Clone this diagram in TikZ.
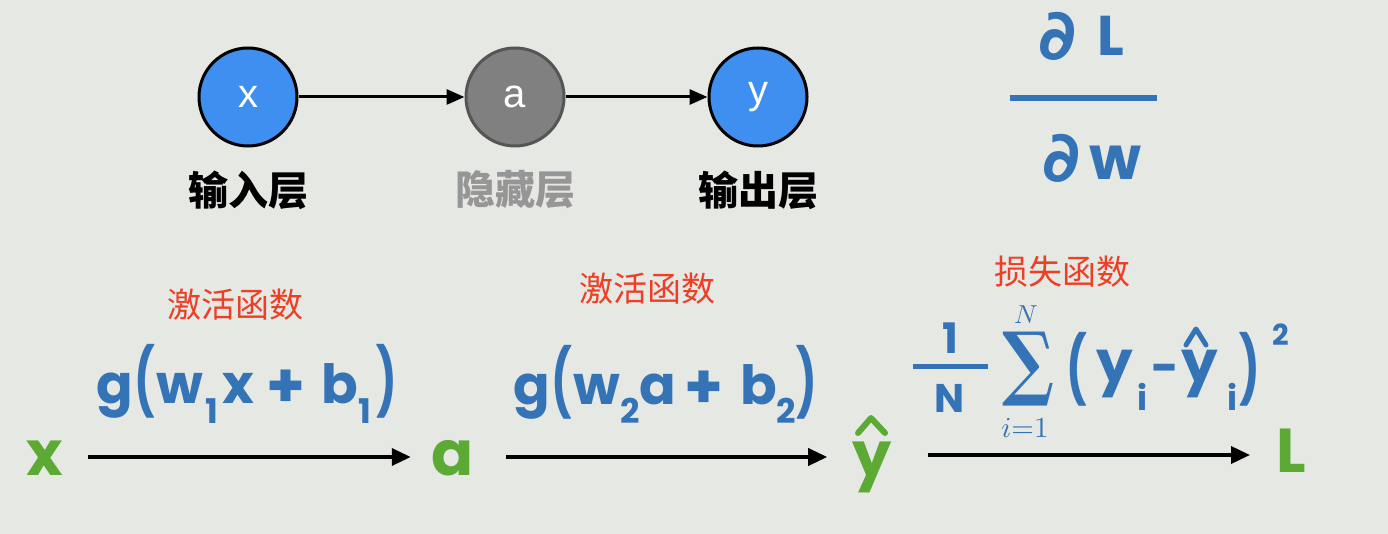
\documentclass[tikz,border=0pt]{standalone}
\usepackage{amsmath}
\usepackage{graphicx}
\usepackage[no-math]{fontspec}
\usetikzlibrary{arrows.meta}
\newfontfamily\pop{Poppins}
\newfontfamily\cjk{Noto Sans CJK SC}
\newfontfamily\helv{Liberation Sans}
\newfontfamily\dvs{DejaVu Sans}
\newfontfamily\dvserif{DejaVu Serif}
\definecolor{bgc}{RGB}{229,232,227}
\definecolor{bluef}{RGB}{53,115,183}
\definecolor{greenc}{RGB}{92,170,52}
\definecolor{redc}{RGB}{236,63,38}
\definecolor{circb}{RGB}{62,143,240}
\definecolor{circg}{RGB}{128,128,128}
\definecolor{circgd}{RGB}{85,85,85}
\definecolor{lblg}{RGB}{150,150,150}
\newcommand\tallpar[1]{\scalebox{0.8}[1.22]{#1}}
\tikzset{
  neuron/.style={circle, draw=black, fill=circb, line width=3pt, minimum size=98pt, inner sep=0pt,
    font=\helv\fontsize{40}{40}\selectfont, text=white},
  layerlbl/.style={font=\cjk\bfseries\fontsize{40}{40}\selectfont, text=black, inner sep=0pt},
  redlbl/.style={font=\cjk\fontsize{34}{34}\selectfont, text=redc, inner sep=0pt},
  fg/.style={font=\pop\bfseries\fontsize{54}{54}\selectfont, text=bluef, inner sep=0pt, anchor=base},
  fpar/.style={fg},
  fplus/.style={fg, font=\pop\bfseries\fontsize{62}{62}\selectfont},
  fsub/.style={fg, font=\pop\bfseries\fontsize{34}{34}\selectfont},
  limit/.style={text=bluef, inner sep=0pt},
  var/.style={font=\pop\bfseries\fontsize{62}{62}\selectfont, text=greenc, inner sep=0pt, anchor=base},
  arr/.style={line width=3.5pt, -{Triangle[length=19pt,width=17pt]}},
  hat/.style={line width=5pt, line cap=round, line join=round},
}
\begin{document}
\begin{tikzpicture}[x=1pt,y=-1pt]
\fill[bgc] (0,0) rectangle (1388,534);
\useasboundingbox (0,0) rectangle (1388,534);
% network
\node[neuron] (nx) at (248,97) {x};
\node[neuron, fill=circg, draw=circgd] (na) at (515,97) {a};
\node[neuron] (ny) at (758,97) {y};
\draw[line width=3pt, -{Triangle[length=18pt,width=15pt]}] (nx) -- (na);
\draw[line width=3pt, -{Triangle[length=18pt,width=15pt]}] (na) -- (ny);
\node[layerlbl] (lx) at (248,190) {输入层};
\node[layerlbl, text=lblg] (la) at (515,190) {隐藏层};
\node[layerlbl] (ly) at (758,190) {输出层};
% dL/dw
\node[fg, font=\dvs\bfseries\fontsize{70}{70}\selectfont] (dl1) at (1058,60) {∂};
\node[fg, font=\pop\bfseries\fontsize{56}{56}\selectfont] (dl2) at (1111,56) {L};
\draw[bluef, line width=6pt] (1010,98) -- (1157,98);
\node[fg, font=\dvs\bfseries\fontsize{70}{70}\selectfont] (dw1) at (1062,182) {∂};
\node[fg, font=\pop\bfseries\fontsize{60}{60}\selectfont] (dw2) at (1115,180) {w};
% red labels
\node[redlbl] (r1) at (235,305) {激活函数};
\node[redlbl] (r2) at (647,289) {激活函数};
\node[redlbl] (r3) at (1062,272) {损失函数};
% formula 1
\node[fg] (f1g) at (115,403) {g};
\node[fpar] (f1l) at (145,404) {\tallpar{(}};
\node[fg] (f1w) at (180,403) {w};
\node[fsub] (f1s) at (212,423) {1};
\node[fg] (f1x) at (238,403) {x};
\node[fplus] (f1p) at (286,407) {+};
\node[fg] (f1b) at (340,403) {b};
\node[fsub] (f1t) at (365,423) {1};
\node[fpar] (f1r) at (387,404) {\tallpar{)}};
% formula 2
\node[fg] (f2g) at (532,404) {g};
\node[fpar] (f2l) at (562,405) {\tallpar{(}};
\node[fg] (f2w) at (597,404) {w};
\node[fsub] (f2s) at (630,423) {2};
\node[fg] (f2a) at (658,404) {a};
\node[fplus] (f2p) at (704,408) {+};
\node[fg] (f2b) at (759,404) {b};
\node[fsub] (f2t) at (786,423) {2};
\node[fpar] (f2r) at (807,405) {\tallpar{)}};
% loss formula
\node[fg, font=\pop\bfseries\fontsize{42}{42}\selectfont] (one) at (950,353) {1};
\draw[bluef, line width=5pt] (913,366) -- (988,366);
\node[fg, font=\pop\bfseries\fontsize{40}{40}\selectfont] (nn) at (950,412) {N};
\node[limit] (sum) at (1028,369) {\resizebox*{52pt}{74pt}{\dvserif\bfseries ∑}};
\node[limit] (sumt) at (1026,315) {\scalebox{2.6}{$N$}};
\node[limit] (sumb) at (1025,428) {\scalebox{2.9}{$i{=}1$}};
\node[fpar] (lp) at (1077,392) {\tallpar{(}};
\node[fg, font=\pop\bfseries\fontsize{58}{58}\selectfont] (ly1) at (1115,382) {y};
\node[fsub] (ls1) at (1142,410) {i};
\node[fg, font=\pop\bfseries\fontsize{48}{48}\selectfont] (lm) at (1165,384) {-};
\node[fg, font=\pop\bfseries\fontsize{58}{58}\selectfont] (ly2) at (1200,382) {y};
\draw[bluef, hat] (1186,345) -- (1196,329) -- (1206,345);
\node[fsub] (ls2) at (1232,410) {i};
\node[fpar] (rp) at (1250,392) {\tallpar{)}};
\node[fsub, font=\pop\bfseries\fontsize{29}{29}\selectfont] (sq) at (1281,345) {2};
% bottom chain
\node[var] (gx) at (45,475) {x};
\node[var] (ga) at (453,475) {a};
\node[var] (gy) at (872,476) {y};
\draw[greenc, line width=6pt, line cap=round, line join=round] (858,433) -- (871,418) -- (885,433);
\node[var] (gl) at (1291,472) {L};
\draw[arr, shorten <=25pt, shorten >=21pt] ([yshift=18pt]gx.base east) -- ([yshift=18pt]ga.base west);
\draw[arr, shorten <=32pt, shorten >=25pt] ([yshift=18pt]ga.base east) -- ([yshift=18pt]ga.base east -| gy.west);
\draw[arr, shorten <=36pt, shorten >=26pt] ([yshift=21pt]gy.base east) -- ([yshift=21pt]gy.base east -| gl.west);
\end{tikzpicture}
\end{document}
